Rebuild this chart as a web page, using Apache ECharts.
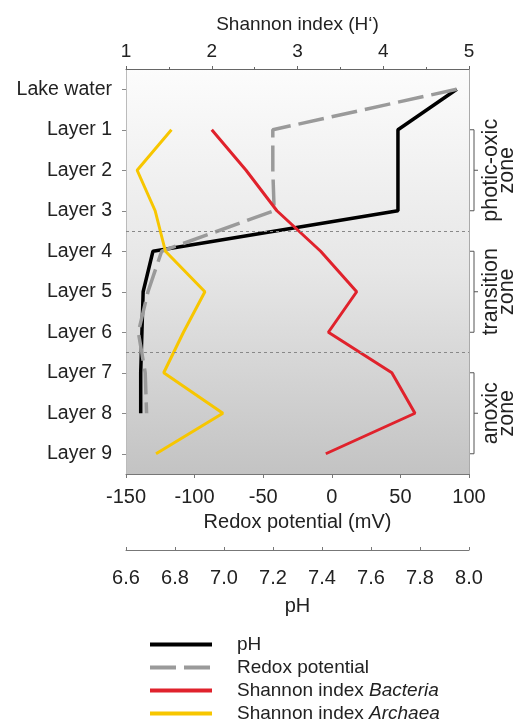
<!DOCTYPE html>
<html>
<head>
<meta charset="utf-8">
<script src="https://cdn.jsdelivr.net/npm/echarts@6/dist/echarts.min.js"></script>
<style>
html,body{margin:0;padding:0;background:#fff;}
#chart{width:523px;height:724px;}
</style>
</head>
<body>
<div id="chart"></div>
<script>
// ---- data ----
const categories = ['Lake water','Layer 1','Layer 2','Layer 3','Layer 4','Layer 5','Layer 6','Layer 7','Layer 8','Layer 9'];
const phValues = [7.95, 7.71, 7.71, 7.71, 6.71, 6.67, 6.665, 6.66, 6.66, null];
const redoxValues = [91, -43, -43, -42, -124, -134, -141, -136, -135, null];
const shannonBacteria = [null, 2.0, 2.4, 2.76, 3.27, 3.69, 3.36, 4.1, 4.37, 3.33];
const shannonArchaea = [null, 1.53, 1.13, 1.34, 1.46, 1.92, 1.67, 1.44, 2.13, 1.35];
const zoneBoundaries = [3.5, 6.5];
const zones = [
  {label: 'photic-oxic\nzone', from: 'Layer 1', to: 'Layer 3'},
  {label: 'transition\nzone', from: 'Layer 4', to: 'Layer 6'},
  {label: 'anoxic\nzone', from: 'Layer 7', to: 'Layer 9'}
];
const seriesNames = ['pH', 'Redox potential', 'Shannon index Bacteria', 'Shannon index Archaea'];

function pairs(vals){
  const out = [];
  vals.forEach((v,i)=>{ if(v!==null) out.push([v, categories[i]]); });
  return out;
}

const FONT = 'Liberation Sans, Arial, Helvetica, sans-serif';
const TXT = '#222';
const FS = 19;
const REDOX_DASH = [26, 8];

const chart = echarts.init(document.getElementById('chart'), null, {renderer:'canvas'});
const option = {
  animation: false,
  backgroundColor: '#fff',
  textStyle: {fontFamily: FONT},
  grid: {
    left: 126, right: 54, top: 69, bottom: 250,
    show: true, borderWidth: 0,
    backgroundColor: new echarts.graphic.LinearGradient(0,0,0,1,[
      {offset:0, color:'#fcfcfc'},
      {offset:0.5, color:'#e6e6e6'},
      {offset:1, color:'#c3c3c3'}
    ])
  },
  xAxis: [
    {
      type:'value', position:'top', min:1, max:5, interval:1,
      name:'Shannon index (H\u2018)', nameLocation:'middle', nameGap:35,
      nameTextStyle:{fontSize:FS, color:TXT, fontFamily:FONT},
      axisLine:{show:true, onZero:false, lineStyle:{color:'#666', width:1}},
      axisTick:{show:true, length:3, lineStyle:{color:'#666'}},
      minorTick:{show:true, splitNumber:2, length:2, lineStyle:{color:'#666'}},
      axisLabel:{fontSize:FS, color:TXT, margin:8, fontFamily:FONT},
      splitLine:{show:false}
    },
    {
      type:'value', position:'bottom', min:-150, max:100, interval:50,
      name:'Redox potential (mV)', nameLocation:'middle', nameGap:38,
      nameTextStyle:{fontSize:FS+1, color:TXT, fontFamily:FONT},
      axisLine:{show:true, onZero:false, lineStyle:{color:'#777', width:1}},
      axisTick:{show:true, length:4, lineStyle:{color:'#777'}},
      axisLabel:{fontSize:FS+1, color:TXT, margin:13, fontFamily:FONT},
      splitLine:{show:false}
    },
    {
      type:'value', position:'bottom', offset:76, min:6.6, max:8.0, interval:0.2,
      name:'pH', nameLocation:'middle', nameGap:46,
      nameTextStyle:{fontSize:FS+1, color:TXT, fontFamily:FONT},
      axisLine:{show:true, onZero:false, lineStyle:{color:'#777', width:1}},
      axisTick:{show:true, inside:true, length:3, lineStyle:{color:'#777'}},
      axisLabel:{fontSize:FS+1, color:TXT, margin:18, fontFamily:FONT, formatter:v=>v.toFixed(1)},
      splitLine:{show:false}
    }
  ],
  yAxis: [
    {
      type:'category', data:categories, inverse:true, boundaryGap:true,
      axisLine:{show:true, onZero:false, lineStyle:{color:'#bbb'}},
      axisTick:{show:true, alignWithLabel:true, length:4, lineStyle:{color:'#888'}},
      axisLabel:{fontSize:FS+0.5, color:TXT, margin:14, fontFamily:FONT},
      splitLine:{show:false}
    },
    {
      type:'value', position:'right', inverse:true, min:-0.5, max:9.5,
      axisLine:{show:true, onZero:false, lineStyle:{color:'#aaa'}},
      axisTick:{show:false}, axisLabel:{show:false}, splitLine:{show:false}
    }
  ],
  legend: {
    orient:'vertical', left:148, top:634, padding:0, height:92,
    itemWidth:62, itemHeight:14, itemGap:2,
    itemStyle:{color:'rgba(0,0,0,0)', borderColor:'rgba(0,0,0,0)', borderWidth:0, opacity:0},
    lineStyle:{width:4},
    data: seriesNames.map((n,i)=> i===1 ? {name:n, lineStyle:{type:REDOX_DASH, width:4, color:'#9a9a9a'}} : {name:n}),
    textStyle:{fontSize:FS, lineHeight:21, color:TXT, fontFamily:FONT, padding:[0,0,0,20],
      rich:{i:{fontStyle:'italic', fontSize:FS, lineHeight:21, color:TXT, fontFamily:FONT}}},
    formatter: n => n.replace(/(Bacteria|Archaea)$/, '{i|$1}')
  },
  series: [
    {name:seriesNames[0], type:'line', xAxisIndex:2, yAxisIndex:0, data:pairs(phValues),
     symbol:'none', color:'#000', lineStyle:{color:'#000', width:3.5}},
    {name:seriesNames[1], type:'line', xAxisIndex:1, yAxisIndex:0, data:pairs(redoxValues),
     symbol:'none', color:'#9a9a9a', lineStyle:{color:'#9a9a9a', width:3.5, type:REDOX_DASH}},
    {name:seriesNames[2], type:'line', xAxisIndex:0, yAxisIndex:0, data:pairs(shannonBacteria),
     symbol:'none', color:'#e0222c', lineStyle:{color:'#e0222c', width:3}},
    {name:seriesNames[3], type:'line', xAxisIndex:0, yAxisIndex:0, data:pairs(shannonArchaea),
     symbol:'none', color:'#f7c600', lineStyle:{color:'#f7c600', width:3}},
    {name:'boundaries', type:'line', xAxisIndex:0, yAxisIndex:1, data:[],
     markLine:{silent:true, symbol:'none', label:{show:false},
       lineStyle:{color:'#888', width:1, type:[3,3]},
       data: zoneBoundaries.map(b=>({yAxis:b}))}}
  ]
};
chart.setOption(option);

// zone brackets on the right, positioned through the axes
const xRight = chart.convertToPixel({xAxisIndex:0}, 5);
const bx = xRight + 5;
const graphics = [];
zones.forEach(z=>{
  const yTop = chart.convertToPixel({yAxisIndex:0}, z.from);
  const yBot = chart.convertToPixel({yAxisIndex:0}, z.to);
  const yMid = (yTop + yBot)/2;
  graphics.push({type:'polyline', shape:{points:[[bx-4,yTop],[bx,yTop],[bx,yBot],[bx-4,yBot]]},
    style:{stroke:'#555', lineWidth:1, fill:null}});
  graphics.push({type:'line', shape:{x1:bx, y1:yMid, x2:bx+4, y2:yMid}, style:{stroke:'#555', lineWidth:1}});
  graphics.push({type:'text', x:bx+25, y:yMid, rotation:Math.PI/2,
    style:{text:z.label, align:'center', verticalAlign:'middle', lineHeight:16,
      font:'21.5px ' + FONT, fill:TXT}});
});
chart.setOption({graphic: graphics});
</script>
</body>
</html>
